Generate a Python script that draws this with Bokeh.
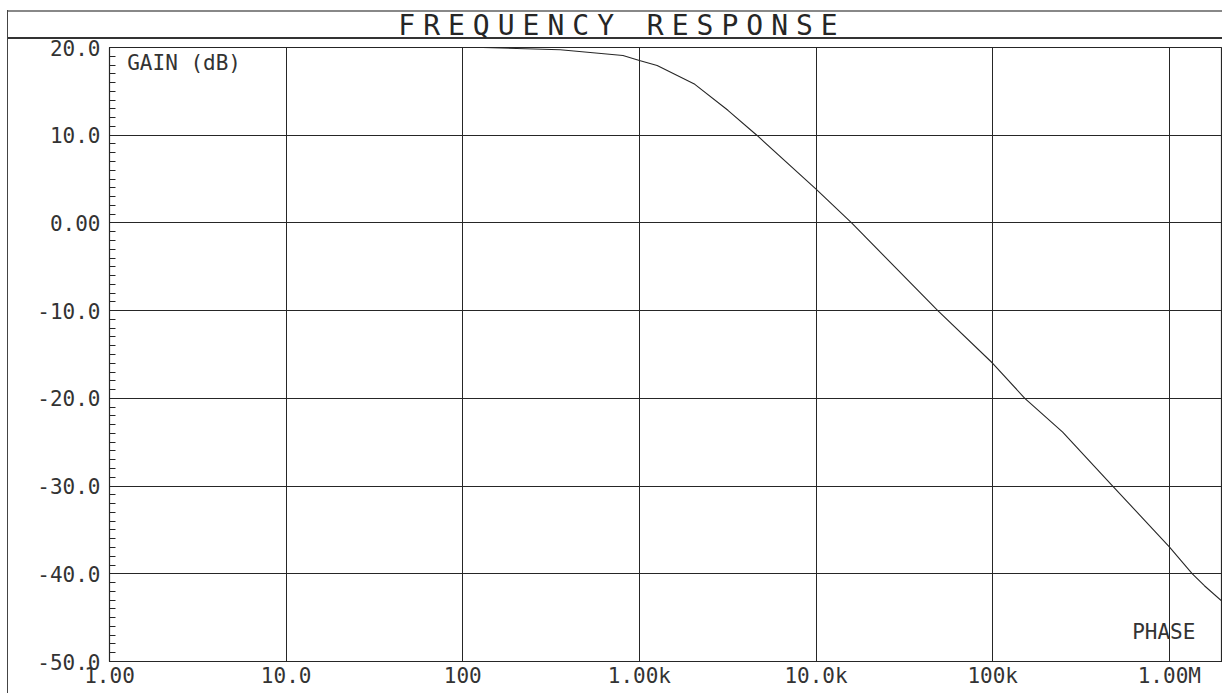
from bokeh.plotting import figure
from bokeh.models import FixedTicker, Label, Div, Range1d
from bokeh.layouts import column
from bokeh.embed import file_html
from bokeh.resources import INLINE

# ---- data ----
freq_hz = [1, 10, 100, 130, 356, 807, 1000, 1260, 2060, 3170, 4620, 10000,
           15900, 48900, 100000, 152000, 249000, 478000, 1000000, 1350000,
           1580000, 2000000]
gain_db = [20.05, 20.05, 20.05, 20.0, 19.74, 19.09, 18.52, 17.95, 15.80, 12.84,
           10.0, 3.86, 0.0, -10.0, -16.0, -20.0, -23.86, -30.0, -36.93, -40.0,
           -41.36, -43.18]

x_tick_values = [1, 10, 100, 1000, 10000, 100000, 1000000]
x_tick_labels = ["1.00", "10.0", "100", "1.00k", "10.0k", "100k", "1.00M"]
y_tick_values = [-50, -40, -30, -20, -10, 0, 10, 20]
y_tick_labels = ["-50.0", "-40.0", "-30.0", "-20.0", "-10.0", "0.00", "10.0", "20.0"]
y_minor_values = list(range(-50, 21))

title_text = "FREQUENCY RESPONSE"
trace_label = "GAIN (dB)"
second_label = "PHASE"

FONT = "DejaVu Sans Mono"
INK = "#262626"

band_style = ("display:block;width:1214px;"
              "border-top:2px solid #888;border-bottom:2px solid #333;"
              "height:29px;box-sizing:border-box;text-align:center;"
              "font-family:'DejaVu Sans Mono',monospace;font-size:28px;"
              "letter-spacing:8px;line-height:27px;padding-left:14px;"
              "color:#262626;white-space:nowrap")

# frame of the sheet: title band on top, a rule down the left side
title_div = Div(
    text=f'<div style="{band_style}">{title_text}</div>',
    width=1215, height=683,
    styles={"border-left": "1px solid #444", "box-sizing": "border-box"},
)
title_div.margin = (10, 0, 0, 7)

p = figure(
    width=1222, height=661,
    x_axis_type="log",
    x_range=Range1d(1, 2.0e6), y_range=Range1d(-50, 20),
    output_backend="svg", toolbar_location=None,
    min_border_left=109, min_border_right=0,
    min_border_top=18, min_border_bottom=29,
)
p.margin = (-664, 0, 0, 0)

p.line(freq_hz, gain_db, line_color=INK, line_width=1.1)

# axes
xa = p.xaxis[0]
xa.ticker = FixedTicker(ticks=x_tick_values, minor_ticks=[])
xa.major_label_overrides = {v: t for v, t in zip(x_tick_values, x_tick_labels)}
xa.major_tick_in = 0
xa.major_tick_out = 0
xa.minor_tick_in = 0
xa.minor_tick_out = 0
xa.major_label_standoff = 2
xa.axis_line_color = INK

ya = p.yaxis[0]
ya.ticker = FixedTicker(ticks=y_tick_values, minor_ticks=y_minor_values)
ya.major_label_overrides = {v: t for v, t in zip(y_tick_values, y_tick_labels)}
ya.major_tick_in = 16
ya.major_tick_out = 0
ya.minor_tick_in = 6
ya.minor_tick_out = 0
ya.major_label_standoff = 9
ya.axis_line_color = INK
ya.major_tick_line_color = INK
ya.minor_tick_line_color = INK

for ax in (xa, ya):
    ax.major_label_text_font = FONT
    ax.major_label_text_font_size = "21px"
    ax.major_label_text_color = "#333333"

p.xgrid.grid_line_color = INK
p.ygrid.grid_line_color = INK
p.xgrid.grid_line_width = 1
p.ygrid.grid_line_width = 1
p.xgrid.ticker = xa.ticker
p.ygrid.ticker = ya.ticker

p.outline_line_color = INK
p.outline_line_width = 1.2
p.background_fill_color = "white"
p.border_fill_alpha = 0

p.add_layout(Label(x=1.26, y=18.2, text=trace_label, text_font=FONT,
                   text_font_size="21px", text_color="#333333",
                   text_align="left", text_baseline="middle"))
p.add_layout(Label(x=9.3e5, y=-46.6, text=second_label, text_font=FONT,
                   text_font_size="21px", text_color="#333333",
                   text_align="center", text_baseline="middle"))

layout = column(title_div, p, spacing=0)

open("out.html", "w").write(file_html(layout, INLINE))
